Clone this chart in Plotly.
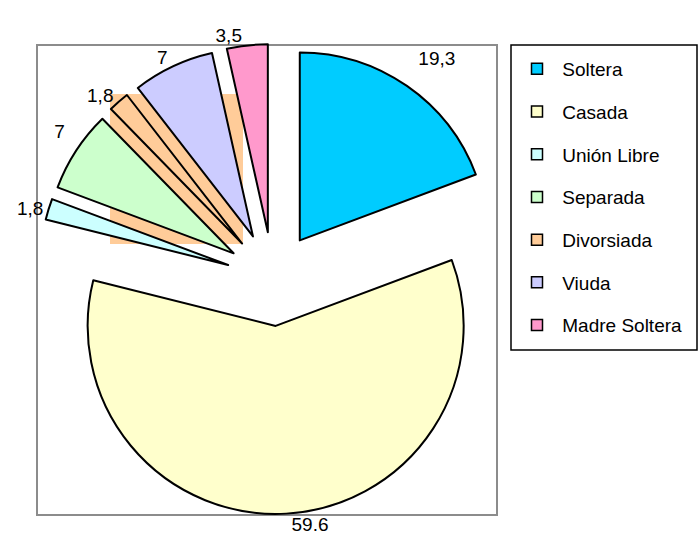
import plotly.graph_objects as go

categories = ["Soltera", "Casada", "Unión Libre", "Separada", "Divorsiada", "Viuda", "Madre Soltera"]
values = [19.3, 59.6, 1.8, 7, 1.8, 7, 3.5]
value_labels = ["19,3", "59.6", "1,8", "7", "1,8", "7", "3,5"]
colors = ["#00CCFF", "#FFFFCC", "#CCFFFF", "#CCFFCC", "#FFCC99", "#CCCCFF", "#FF99CC"]

W, H = 700, 546
ML, MR, MT, MB = 38, 192, 44, 32
PW, PH = W - ML - MR, H - MT - MB


def px_x(x):
    return (x - ML) / PW


def px_y(y):
    return 1 - (y - MT) / PH


# Excel sets some outside labels a little farther from their slices than Plotly
# does: an empty second line under those labels lifts them a bit.
lifted = {"Soltera", "Separada"}
texts = [lbl + "<br>\u00a0" if cat in lifted else lbl
         for cat, lbl in zip(categories, value_labels)]

fig = go.Figure()
fig.add_trace(go.Pie(
    labels=categories, values=values, text=texts,
    textinfo="text", textposition="outside",
    sort=False, direction="clockwise", rotation=0,
    pull=[0.25] * len(values),
    marker=dict(colors=colors, line=dict(color="black", width=2)),
    textfont=dict(family="Liberation Sans, Arial, sans-serif", size=19, color="black"),
    showlegend=False, hoverinfo="skip",
    domain=dict(x=[0, 1], y=[0, 1]),
))

for name, c in zip(categories, colors):
    fig.add_trace(go.Scatter(
        x=[None], y=[None], mode="markers", name="\u00a0" + name,
        legendgroup=name,
        marker=dict(symbol="square", size=11, color=c, line=dict(color="black", width=1.5)),
        hoverinfo="skip",
    ))

fig.update_layout(
    width=W, height=H,
    margin=dict(l=ML, r=MR, t=MT, b=MB, autoexpand=False),
    paper_bgcolor="white", plot_bgcolor="white",
    xaxis=dict(visible=False), yaxis=dict(visible=False),
    legend=dict(
        x=px_x(517), y=px_y(50), xanchor="left", yanchor="top",
        bgcolor="rgba(0,0,0,0)", borderwidth=0,
        font=dict(family="Liberation Sans, Arial, sans-serif", size=19, color="black"),
        tracegroupgap=15, traceorder="grouped",
    ),
    shapes=[
        dict(type="rect", xref="paper", yref="paper",
             x0=px_x(110), x1=px_x(243), y0=px_y(244), y1=px_y(94),
             fillcolor="#FFCC99", line=dict(width=0), layer="below"),
        dict(type="rect", xref="paper", yref="paper",
             x0=px_x(37), x1=px_x(497), y0=px_y(515), y1=px_y(45),
             line=dict(color="#8C8C8C", width=2), layer="below"),
        dict(type="rect", xref="paper", yref="paper",
             x0=px_x(511), x1=px_x(697), y0=px_y(350), y1=px_y(45),
             line=dict(color="black", width=1.5), fillcolor="rgba(0,0,0,0)"),
    ],
)

fig.write_html("out.html", config={"displayModeBar": False},
               post_script="document.body.style.margin='0';")
